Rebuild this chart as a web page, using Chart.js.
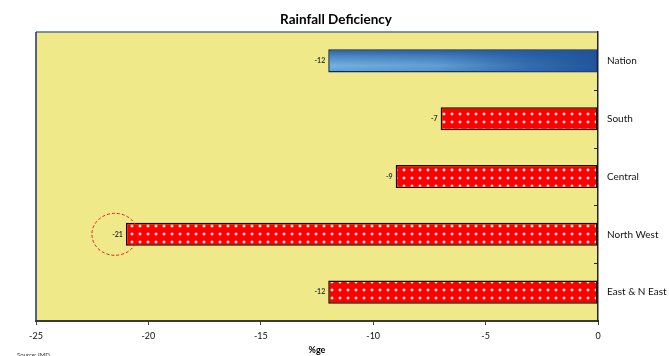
<!DOCTYPE html>
<html>
<head>
<meta charset="utf-8">
<style>
  html, body { margin: 0; padding: 0; background: #fff; }
  canvas { display: block; }
</style>
<script src="https://cdn.jsdelivr.net/npm/chart.js@4/dist/chart.umd.min.js"></script>
</head>
<body>
<canvas id="c" width="669" height="356"></canvas>
<script>
const categories = ["Nation", "South", "Central", "North West", "East & N East"];
const deficiency = [-12, -7, -9, -21, -12];
const xTicks = [-25, -20, -15, -10, -5, 0];
const chartTitle = "Rainfall Deficiency";
const xTitle = "%ge";
const sourceNote = "Source: IMD";
const highlightIndex = 3;

function makeDotPattern() {
  const t = document.createElement('canvas');
  t.width = 8; t.height = 8;
  const g = t.getContext('2d');
  g.fillStyle = '#FF0000';
  g.fillRect(0, 0, 8, 8);
  g.fillStyle = '#FF4A4A';
  g.fillRect(3, 0, 2, 4);
  g.fillRect(2, 1, 4, 2);
  g.fillStyle = '#FFE8E8';
  g.fillRect(3, 1, 2, 2);
  return document.getElementById('c').getContext('2d').createPattern(t, 'repeat');
}
const dotPattern = makeDotPattern();

function barFill(ctx) {
  if (ctx.dataIndex === 0) {
    const chart = ctx.chart;
    const area = chart.chartArea;
    if (!area) return '#2F66AA';
    const ys = chart.scales.y;
    const yc = ys.getPixelForValue(0);
    const h = ys.getPixelForValue(1) - yc;
    const g = chart.ctx.createLinearGradient(0, yc - h * 0.2, 0, yc + h * 0.2);
    g.addColorStop(0, '#2A5EA6');
    g.addColorStop(0.3, '#4C88C4');
    g.addColorStop(0.7, '#72B2DF');
    g.addColorStop(1, '#5E9ED2');
    return g;
  }
  return dotPattern;
}

const framePlugin = {
  id: 'frame',
  beforeDraw(chart) {
    const { ctx, chartArea: a } = chart;
    ctx.save();
    ctx.fillStyle = '#F0E98A';
    ctx.fillRect(a.left, a.top, a.right - a.left, a.bottom - a.top);
    ctx.lineWidth = 1.5;
    ctx.strokeStyle = '#5C6C8C';
    ctx.beginPath(); ctx.moveTo(a.left, a.top); ctx.lineTo(a.right, a.top); ctx.stroke();
    ctx.strokeStyle = '#1C2C8C';
    ctx.beginPath(); ctx.moveTo(a.left, a.top); ctx.lineTo(a.left, a.bottom); ctx.stroke();
    ctx.restore();
  },
  afterDatasetsDraw(chart) {
    const { ctx, chartArea: a } = chart;
    const ys = chart.scales.y;
    const meta = chart.getDatasetMeta(0);
    ctx.save();
    // horizontal darkening overlay for the Nation bar
    const nb = meta.data[0];
    const top = nb.y - nb.height / 2, bot = nb.y + nb.height / 2;
    const l = Math.min(nb.x, nb.base), r = Math.max(nb.x, nb.base);
    ctx.save();
    ctx.beginPath();
    ctx.rect(l + 0.75, top + 0.75, r - l - 1.5, bot - top - 1.5);
    ctx.clip();
    const hg = ctx.createLinearGradient(l, 0, r, 0);
    hg.addColorStop(0, 'rgba(32,84,158,0)');
    hg.addColorStop(0.4, 'rgba(32,84,158,0.2)');
    hg.addColorStop(0.75, 'rgba(32,84,158,0.75)');
    hg.addColorStop(1, 'rgba(30,80,152,0.95)');
    ctx.fillStyle = hg;
    ctx.fillRect(l, top, r - l, bot - top);
    ctx.restore();
    // inner tick marks on right axis at category boundaries
    ctx.strokeStyle = '#222';
    ctx.lineWidth = 1;
    for (let i = 0; i < categories.length - 1; i++) {
      const yb = (ys.getPixelForValue(i) + ys.getPixelForValue(i + 1)) / 2;
      ctx.beginPath(); ctx.moveTo(a.right - 4, Math.round(yb) + 0.5); ctx.lineTo(a.right, Math.round(yb) + 0.5); ctx.stroke();
    }
    // value labels
    ctx.font = 'bold 7px Lato';
    ctx.fillStyle = '#333';
    ctx.textAlign = 'right';
    ctx.textBaseline = 'middle';
    meta.data.forEach((el, i) => {
      ctx.fillText(String(deficiency[i]), el.x - 3, el.y);
    });
    // dashed highlight circle
    const hl = meta.data[highlightIndex];
    ctx.strokeStyle = '#E02020';
    ctx.lineWidth = 1;
    ctx.setLineDash([3, 2]);
    ctx.beginPath();
    ctx.ellipse(hl.x - 11, hl.y, 23, 21, 0, 0, Math.PI * 2);
    ctx.stroke();
    ctx.setLineDash([]);
    // title
    ctx.font = 'bold 13.5px Lato';
    ctx.fillStyle = '#000';
    ctx.textAlign = 'center';
    ctx.textBaseline = 'middle';
    ctx.fillText(chartTitle, 336, 19.5);
    // source
    ctx.font = '6px Lato';
    ctx.fillStyle = '#333';
    ctx.textAlign = 'left';
    ctx.fillText(sourceNote, 17, 355);
    ctx.restore();
  }
};

new Chart(document.getElementById('c'), {
  type: 'bar',
  data: {
    labels: categories,
    datasets: [{
      data: deficiency,
      backgroundColor: barFill,
      borderColor: (ctx) => ctx.dataIndex === 0 ? '#0E2A5A' : '#1A0000',
      borderWidth: 1.5,
      borderSkipped: false,
      barPercentage: 0.4,
      categoryPercentage: 1.0
    }]
  },
  options: {
    indexAxis: 'y',
    responsive: false,
    animation: false,
    devicePixelRatio: 1,
    layout: { padding: { top: 32, left: 36, right: 0, bottom: 0 } },
    plugins: { legend: { display: false }, title: { display: false }, tooltip: { enabled: false } },
    scales: {
      x: {
        type: 'linear',
        position: 'bottom',
        min: -25, max: 0,
        afterBuildTicks: (s) => { s.ticks = xTicks.map(v => ({ value: v })); },
        afterFit: (s) => { s.height = 35; },
        grid: { drawOnChartArea: false, drawTicks: true, tickLength: 4, color: '#444', lineWidth: 1 },
        border: { display: true, color: '#3A3A3A', width: 2 },
        ticks: { font: { family: 'Lato', size: 9 }, color: '#111', padding: 6, maxRotation: 0 },
        title: { display: true, text: xTitle, font: { family: 'Lato', size: 9, weight: 'bold' }, color: '#000', padding: { top: 0, bottom: 1 } }
      },
      y: {
        position: 'right',
        offset: true,
        afterFit: (s) => { s.width = 71; },
        grid: { drawOnChartArea: false, drawTicks: false },
        border: { display: true, color: '#222', width: 1.5 },
        ticks: { font: { family: 'Lato', size: 10 }, color: '#111', padding: 9 }
      }
    }
  },
  plugins: [framePlugin]
});
</script>
</body>
</html>
